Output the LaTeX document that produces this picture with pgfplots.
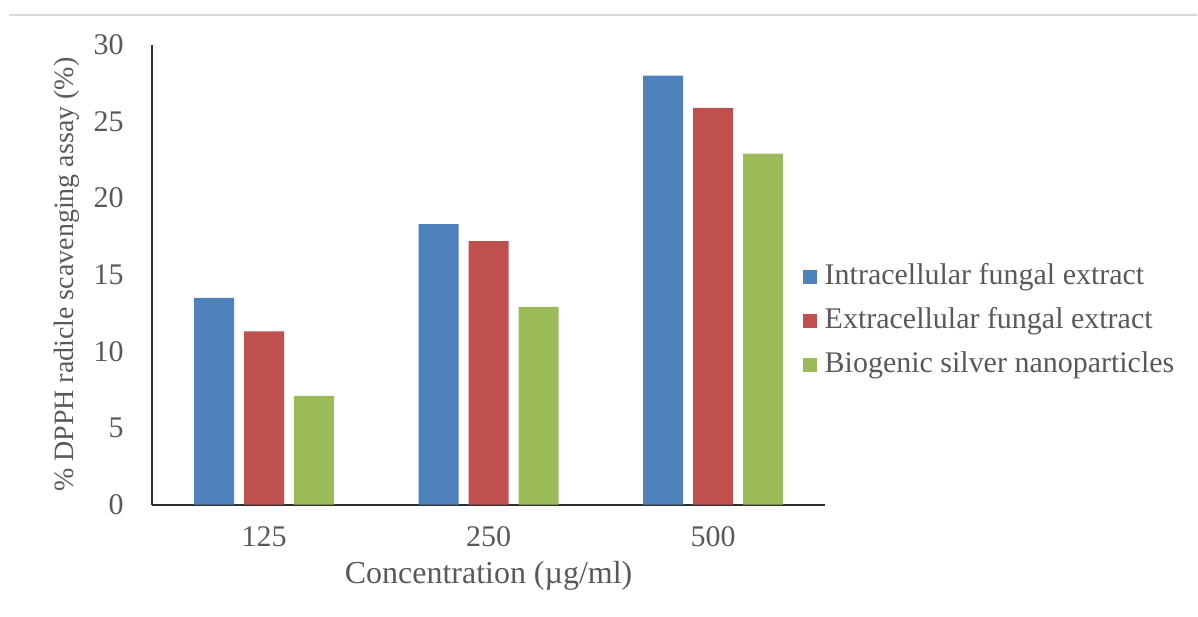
\documentclass[border=0pt]{standalone}
\usepackage{fontspec}
\setmainfont{Liberation Serif}
\usepackage{pgfplots}
\pgfplotsset{compat=1.18}

\definecolor{serblue}{HTML}{4F81BD}
\definecolor{serred}{HTML}{C0504D}
\definecolor{sergreen}{HTML}{9BBB59}
\definecolor{txtgray}{HTML}{595959}
\definecolor{axgray}{HTML}{303030}
\definecolor{rulegray}{HTML}{D9D9D9}

\begin{document}
\begin{tikzpicture}
\begin{axis}[
  scale only axis,
  width=337pt, height=230pt,
  ymin=0, ymax=30,
  xmin=-0.5, xmax=2.5,
  ybar=5pt, bar width=20pt,
  xtick={0,1,2},
  xticklabels={125,250,500},
  ytick={0,5,...,30},
  major tick length=0pt,
  axis x line*=bottom,
  axis y line*=left,
  axis line style={-, draw=axgray, line width=1pt},
  /pgf/number format/assume math mode=true,
  ticklabel style={font=\fontsize{15}{18}\selectfont, text=txtgray},
  yticklabel style={inner sep=0pt, anchor=east, xshift=-14pt},
  xticklabel style={inner sep=0pt, anchor=north, yshift=-10.8pt},
  xlabel={Concentration (µg/ml)},
  ylabel={\% DPPH radicle scavenging assay (\%)},
  xlabel style={at={(axis description cs:0.5,-0.1543)}, anchor=center,
    font=\fontsize{16}{19}\selectfont, text=txtgray},
  ylabel style={at={(axis description cs:-0.1265,0.5)}, anchor=center,
    rotate=0, font=\fontsize{14}{17}\selectfont, text=txtgray},
  legend image code/.code={\fill[#1] (0pt,-3.2pt) rectangle (7pt,3.8pt); \path (9pt,0pt);},
  legend cell align=left,
  legend style={at={(0.9659,0.3978)}, anchor=west, draw=none, fill=none,
    inner sep=0pt, row sep=4pt,
    nodes={inner sep=2pt, text height=10.5pt, text depth=3.5pt},
    font=\fontsize{15}{18}\selectfont, text=txtgray},
]
\addplot[fill=serblue, draw=none] coordinates {(0,13.5) (1,18.3) (2,28.0)};
\addplot[fill=serred, draw=none] coordinates {(0,11.3) (1,17.2) (2,25.9)};
\addplot[fill=sergreen, draw=none] coordinates {(0,7.1) (1,12.9) (2,22.9)};
\legend{Intracellular fungal extract, Extracellular fungal extract, Biogenic silver nanoparticles}
\end{axis}
% thin rule along the top edge
\draw[rulegray, line width=1pt] (-71.5pt,245pt) -- (523pt,245pt);
\path[use as bounding box] (-76pt,-56pt) rectangle (523pt,252.5pt);
\end{tikzpicture}
\end{document}
